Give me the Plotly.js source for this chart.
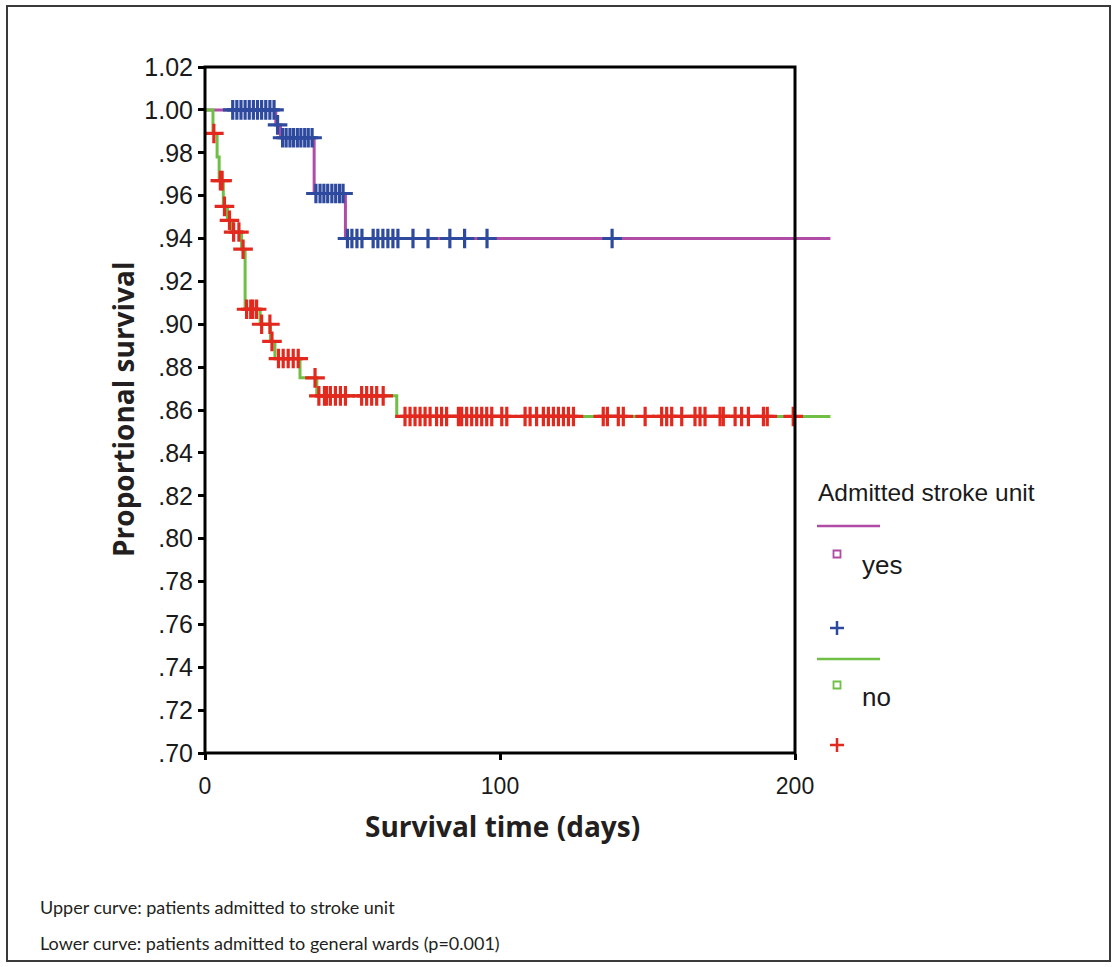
<!DOCTYPE html>
<html>
<head>
<meta charset="utf-8">
<script src="https://cdn.plot.ly/plotly-3.0.1.min.js"></script>
<style>html,body{margin:0;padding:0;background:#fff;}#chart{width:1114px;height:967px;}</style>
</head>
<body>
<div id="chart"></div>
<script>
// ---- Data ----
// Kaplan-Meier step curves: time of step (days) and survival after the step
const yesTimes = [0, 24.0, 25.6, 37.0, 47.6, 212];
const yesSurv  = [1.000, 0.993, 0.987, 0.961, 0.940, 0.940];
const noTimes  = [0, 2.7, 4.1, 4.8, 6.2, 7.6, 9.2, 12.4, 13.6, 18.7, 22.2, 23.7, 32.2, 37.9, 65.0, 212];
const noSurv   = [1.000, 0.989, 0.978, 0.967, 0.955, 0.9485, 0.943, 0.935, 0.907, 0.900, 0.892, 0.884, 0.875, 0.8666, 0.857, 0.857];
// censored observations (days)
const yesCensored = [9.4, 10.8, 12.2, 13.6, 15.0, 16.4, 17.8, 19.2, 20.6, 22.0, 23.4,
  24.6,
  26.3, 27.5, 28.8, 30.0, 31.3, 32.5, 33.8, 35.0, 36.3,
  37.6, 39.0, 40.3, 41.6, 43.0, 44.3, 45.6, 46.8,
  48.3, 49.8, 51.5, 53.2, 57.0, 58.6, 60.3, 62.0, 63.7, 65.4, 70.5, 75.6, 83.0, 88.0, 95.6, 138.0];
const noCensored = [3.0, 5.2, 5.8, 6.6, 8.3, 9.7, 11.5, 12.9,
  14.1, 15.5, 16.2, 17.5, 19.2, 22.0, 22.7,
  24.9, 26.5, 28.2, 29.9, 31.6, 37.3,
  38.6, 40.5, 41.2, 42.5, 44.2, 45.9, 47.6, 53.1, 54.8, 56.5, 58.2, 60.4,
  67.8, 69.5, 71.2, 72.9, 74.6, 76.3, 78.5, 80.2, 81.9, 85.9, 87.0, 88.7, 90.4, 92.1, 93.8, 95.5, 97.2,
  100.6, 102.3, 108.5, 110.2, 112.4, 114.7, 116.4, 118.1, 119.8, 121.5, 123.2, 124.9,
  135.0, 136.4, 140.1, 141.8, 149.2, 154.8, 156.5, 158.2, 161.6, 166.1, 167.8, 169.5,
  174.6, 175.7, 179.7, 181.9, 184.2, 189.3, 190.6, 199.4];
const yTickVals = [0.70,0.72,0.74,0.76,0.78,0.80,0.82,0.84,0.86,0.88,0.90,0.92,0.94,0.96,0.98,1.00,1.02];
const yTickText = [".70",".72",".74",".76",".78",".80",".82",".84",".86",".88",".90",".92",".94",".96",".98","1.00","1.02"];
const xTickVals = [0, 100, 200];
const xTickText = ["0", "100", "200"];
const groupNames = ["yes", "no"];

// survival of a step curve at time t
function stepAt(times, surv, t) {
  let v = surv[0];
  for (let i = 0; i < times.length; i++) { if (times[i] <= t) v = surv[i]; }
  return v;
}

const PURPLE = '#b04ba6', GREEN = '#6fbf45', BLUE = '#2e4a9e', RED = '#e3281e';

const traces = [
  {x: yesTimes, y: yesSurv, mode: 'lines', line: {shape: 'hv', color: PURPLE, width: 3}, hoverinfo: 'skip', name: groupNames[0]},
  {x: noTimes, y: noSurv, mode: 'lines', line: {shape: 'hv', color: GREEN, width: 3}, hoverinfo: 'skip', name: groupNames[1]},
  {x: yesCensored, y: yesCensored.map(t => stepAt(yesTimes, yesSurv, t)), mode: 'markers',
   marker: {symbol: 'cross-thin', size: 14, line: {color: BLUE, width: 3.2}}, name: groupNames[0] + ' censored'},
  {x: noCensored, y: noCensored.map(t => stepAt(noTimes, noSurv, t)), mode: 'markers',
   marker: {symbol: 'cross-thin', size: 14, line: {color: RED, width: 3.2}}, name: groupNames[1] + ' censored'}
];

// pixel -> paper helpers
const L = 205, T = 67, W = 626, H = 686, PXPERDAY = 2.95;
const px = x => (x - L) / W;
const py = y => (T + H - y) / H;

const shapes = [
  // outer page border
  {type: 'rect', xref: 'paper', yref: 'paper', x0: px(7), x1: px(1110), y0: py(6), y1: py(961), line: {color: '#3a3a3a', width: 2}},
  // plot frame (day 0..200, .70..1.02)
  {type: 'rect', xref: 'paper', yref: 'paper', x0: 0, x1: 200 * PXPERDAY / W, y0: 0, y1: 1, line: {color: '#000', width: 3}, layer: 'above'},
  // legend: yes
  {type: 'line', xref: 'paper', yref: 'paper', x0: px(817), x1: px(880), y0: py(526), y1: py(526), line: {color: PURPLE, width: 2.5}},
  {type: 'rect', xref: 'paper', yref: 'paper', x0: px(833.5), x1: px(840.5), y0: py(550.5), y1: py(557.5), line: {color: PURPLE, width: 1.8}},
  {type: 'line', xref: 'paper', yref: 'paper', x0: px(830), x1: px(844), y0: py(628), y1: py(628), line: {color: BLUE, width: 2.5}},
  {type: 'line', xref: 'paper', yref: 'paper', x0: px(837), x1: px(837), y0: py(621), y1: py(635), line: {color: BLUE, width: 2.5}},
  // legend: no
  {type: 'line', xref: 'paper', yref: 'paper', x0: px(817), x1: px(880), y0: py(659), y1: py(659), line: {color: GREEN, width: 2.5}},
  {type: 'rect', xref: 'paper', yref: 'paper', x0: px(833.5), x1: px(840.5), y0: py(681.5), y1: py(688.5), line: {color: GREEN, width: 1.8}},
  {type: 'line', xref: 'paper', yref: 'paper', x0: px(830), x1: px(844), y0: py(745), y1: py(745), line: {color: RED, width: 2.5}},
  {type: 'line', xref: 'paper', yref: 'paper', x0: px(837), x1: px(837), y0: py(738), y1: py(752), line: {color: RED, width: 2.5}}
];

const ann = (x, y, text, size, opts) => Object.assign({xref: 'paper', yref: 'paper', x: px(x), y: py(y), text: text,
  showarrow: false, xanchor: 'left', yanchor: 'middle', font: {family: 'Liberation Sans, Arial, sans-serif', size: size, color: '#1a1a1a'}}, opts || {});

const annotations = [
  ann(816, 492, 'Admitted stroke unit', 24.5),
  ann(860, 565, groupNames[0], 26),
  ann(860, 697, groupNames[1], 26),
  ann(502, 826, '<b>Survival time (days)</b>', 28, {xanchor: 'center', font: {family: 'Open Sans, sans-serif', size: 28, color: '#231f20'}}),
  ann(123, 410, '<b>Proportional survival</b>', 28, {xanchor: 'center', textangle: -90, font: {family: 'Open Sans, sans-serif', size: 28, color: '#231f20'}}),
  ann(38, 907, 'Upper curve: patients admitted to stroke unit', 18, {font: {family: 'Lato, sans-serif', size: 18, color: '#231f20'}}),
  ann(38, 943, 'Lower curve: patients admitted to general wards (p=0.001)', 18, {font: {family: 'Lato, sans-serif', size: 18, color: '#231f20'}})
];

const layout = {
  width: 1114, height: 967,
  margin: {l: L, r: 1114 - L - W, t: T, b: 967 - T - H, pad: 0},
  paper_bgcolor: '#fff', plot_bgcolor: '#fff',
  showlegend: false,
  xaxis: {range: [0, W / PXPERDAY], tickvals: xTickVals, ticktext: xTickText, showgrid: false, zeroline: false, showline: false,
          ticks: 'outside', ticklen: 6, tickwidth: 3, tickcolor: '#000', ticklabelstandoff: 6,
          tickfont: {family: 'Liberation Sans, Arial, sans-serif', size: 23, color: '#1a1a1a'}, fixedrange: true},
  yaxis: {range: [0.70, 1.02], tickvals: yTickVals, ticktext: yTickText, showgrid: false, zeroline: false, showline: false,
          ticks: 'outside', ticklen: 6, tickwidth: 3, tickcolor: '#000', ticklabelstandoff: 0,
          tickfont: {family: 'Liberation Sans, Arial, sans-serif', size: 25, color: '#1a1a1a'}, fixedrange: true},
  shapes: shapes,
  annotations: annotations
};

Plotly.newPlot('chart', traces, layout, {displayModeBar: false, staticPlot: true});
</script>
</body>
</html>
